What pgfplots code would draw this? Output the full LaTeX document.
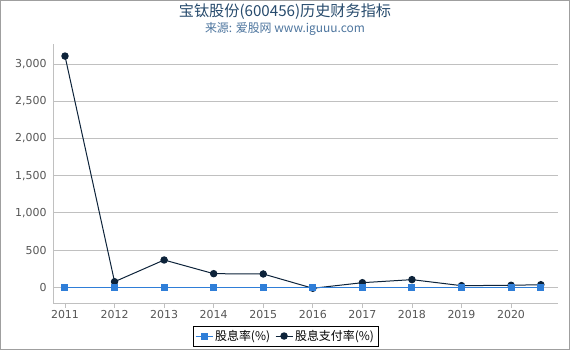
\documentclass[border=0pt]{standalone}
\usepackage{fontspec}
\setmainfont{DejaVu Sans}
\newfontfamily\cjk{Noto Sans CJK SC}
\usepackage{pgfplots}
\pgfplotsset{compat=1.18}
\definecolor{c1}{HTML}{2F7ED8}
\definecolor{c2}{HTML}{0D233A}
\definecolor{tt}{HTML}{274B6D}
\definecolor{st}{HTML}{4D759E}
\definecolor{tickc}{HTML}{555555}
\definecolor{gridc}{HTML}{C0C0C0}
\begin{document}
\begin{tikzpicture}[x=1bp,y=1bp]
\path[use as bounding box] (0,0) rectangle (570,350);
\draw[gray!75, line width=1bp] (0.5,0.5) rectangle (569.5,349.5);
\node[font=\cjk\fontsize{15.2}{17}\selectfont, text=tt] at (285,338) {宝钛股份(600456)历史财务指标};
\node[font=\cjk\fontsize{12}{14}\selectfont, text=st] at (285,321.5) {来源: 爱股网 www.iguuu.com};
\begin{axis}[at={(53bp,47bp)}, anchor=south west, scale only axis,
  width=505bp, height=259bp,
  xmin=2010.758, xmax=2020.947, ymin=-211, ymax=3269,
  axis x line*=bottom, axis y line*=left,
  axis line style={gridc, line width=0.8bp, -},
  xtick={2011,...,2020}, ytick={0,500,...,3000},
  ymajorgrids, grid style={gridc, line width=0.8bp},
  tick align=outside, major tick length=5bp,
  xtick style={gridc, line width=0.8bp},
  ytick style={draw=none},
  /pgf/number format/assume math mode=true,
  xticklabel style={/pgf/number format/1000 sep=, font=\fontsize{11}{13}\selectfont, text=tickc, yshift=1bp},
  yticklabel style={/pgf/number format/1000 sep={,}, font=\fontsize{11}{13}\selectfont, text=tickc, xshift=2bp},
  legend columns=2,
  legend style={at={(0.5,0)}, anchor=north, yshift=-23bp, xshift=-20bp, draw=black, fill=white,
    font=\cjk\fontsize{12}{14}\selectfont, inner sep=2bp,
    /tikz/every even column/.append style={column sep=3bp}},
  legend cell align=left,
]
\addlegendimage{c1, line width=1bp, mark=square*, mark size=3bp, mark options={c1}}
\addlegendentry{股息率(\%)}
\addlegendimage{c2, line width=1bp, mark=*, mark size=3.2bp, mark options={c2}}
\addlegendentry{股息支付率(\%)}
\addplot[c2, line width=1bp, mark=*, mark size=3.2bp, mark options={c2}, forget plot] coordinates {
(2011,3107) (2012,75) (2013,367) (2014,183) (2015,179) (2016,-13) (2017,62) (2018,103) (2019,22) (2020,27) (2020.6,35)};
\addplot[c1, line width=1bp, mark=square*, mark size=3bp, mark options={c1}, forget plot] coordinates {
(2011,0) (2012,0) (2013,0) (2014,0) (2015,0) (2016,0) (2017,0) (2018,0) (2019,0) (2020,0) (2020.6,0)};
\end{axis}
\end{tikzpicture}
\end{document}
